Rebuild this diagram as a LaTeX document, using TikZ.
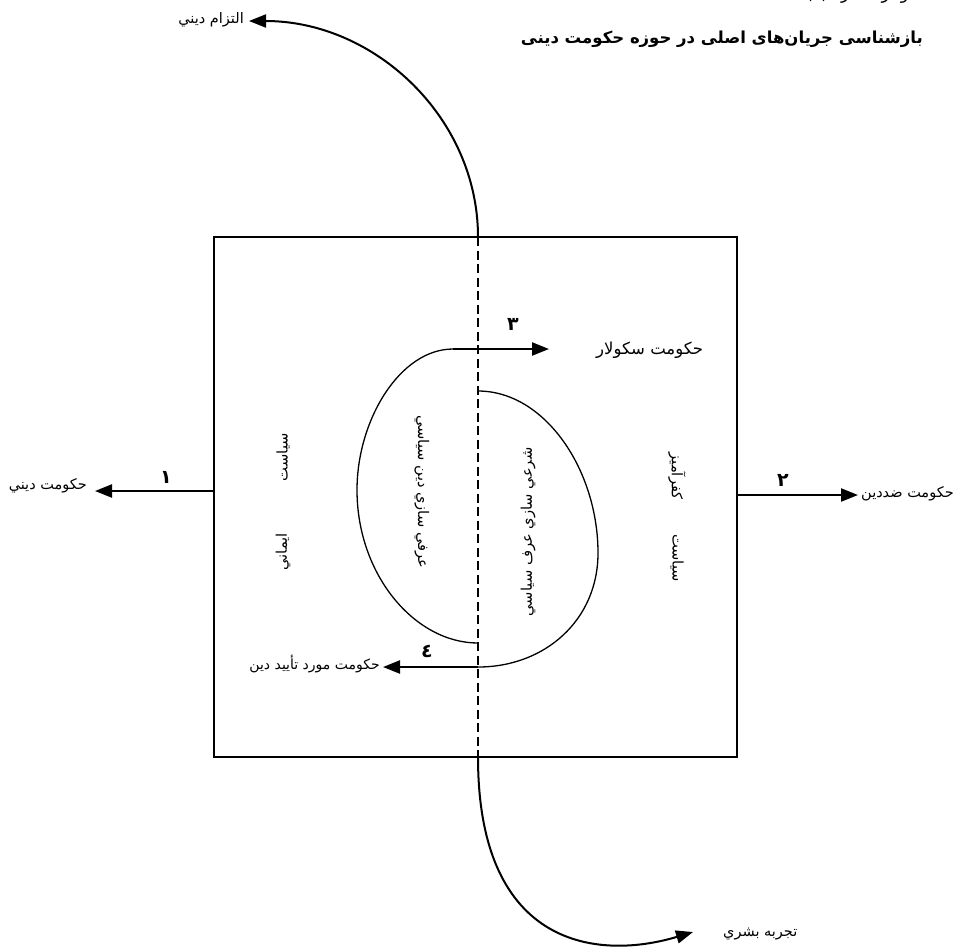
\documentclass[tikz,border=0pt]{standalone}
\usepackage{fontspec}
\usetikzlibrary{arrows.meta}
\newfontfamily\arabicfont[Script=Arabic]{DejaVu Sans}
\TeXXeTstate=1
\newcommand{\rtltext}[1]{{\arabicfont\beginR #1\endR}}
\tikzset{
  boxline/.style={line width=1.3pt},
  dashline/.style={line width=1.4pt, dash pattern=on 9pt off 4.5pt},
  bigcurve/.style={line width=2pt, -{Triangle[length=17pt,width=13pt]}},
  halfcurve/.style={line width=1.3pt},
  flowarrow/.style={line width=2.3pt, -{Triangle[length=17pt,width=13pt]}},
  lbl/.style={inner sep=1pt, font=\fontsize{14.5}{16}\selectfont},
  numlbl/.style={inner sep=1pt, font=\fontsize{19}{21}\bfseries},
  vlbl/.style={inner sep=1pt, font=\fontsize{14.7}{16}\selectfont},
}
\begin{document}
\begin{tikzpicture}[x=1pt,y=-1pt]
\useasboundingbox (0,0) rectangle (965,946);
% cut-off caption line at top
\node[anchor=base east, inner sep=0pt, font=\fontsize{16}{18}\selectfont] (cap) at (923,-1) {\rtltext{نمودار شماره (۱)}};
% title
\node[anchor=east, inner sep=0pt, font=\fontsize{16.5}{18}\bfseries] (title) at (923,39) {\rtltext{بازشناسی جریان‌های اصلی در حوزه حکومت دینی}};
% main box
\draw[boxline] (214,237) rectangle (737,757);
\coordinate (btop) at (478,237);
\coordinate (bbot) at (478,757);
\draw[dashline] (btop) -- (bbot);
% top curve
\coordinate (tl) at (249,21);
\draw[bigcurve] (btop) .. controls (478,118) and (375,21) .. (tl);
\node[lbl, anchor=east] (religious) at (245,20) {\rtltext{التزام ديني}};
% bottom curve
\coordinate (br) at (693,932);
\draw[bigcurve] (bbot) .. controls (478,950) and (600,960) .. (br);
\node[lbl, anchor=west] (human) at (722,934) {\rtltext{تجربه بشري}};
% left half of the oval
\coordinate (lt) at (453,349);
\coordinate (lb) at (478,643);
\draw[halfcurve] (lt) .. controls (400,349) and (357,420) .. (357,490)
  .. controls (357,575) and (415,643) .. (lb);
% right half of the oval
\coordinate (rt) at (478,391);
\coordinate (rb) at (478,667);
\draw[halfcurve] (rt) .. controls (545,391) and (598,470) .. (598,553)
  .. controls (598,620) and (545,667) .. (rb);
% arrow 3
\coordinate (a3) at (549,349);
\draw[flowarrow] (lt) -- (a3);
\node[numlbl] (n3) at (513,324) {\rtltext{۳}};
\node[lbl, anchor=west, font=\fontsize{16.5}{18}\selectfont] (secular) at (595,350) {\rtltext{حكومت سكولار}};
% arrow 4
\coordinate (a4) at (383,667);
\draw[flowarrow] (rb) -- (a4);
\node[numlbl] (n4) at (427,651) {\rtltext{٤}};
\node[lbl, anchor=east, font=\fontsize{14}{16}\selectfont] (approved) at (381,664) {\rtltext{حكومت مورد تأييد دين}};
% arrow 1
\coordinate (b1) at (214,491);
\coordinate (a1) at (95,491);
\draw[flowarrow] (b1) -- (a1);
\node[numlbl] (n1) at (166,477) {\rtltext{۱}};
\node[lbl, anchor=east] (relgov) at (88,486) {\rtltext{حكومت ديني}};
% arrow 2
\coordinate (b2) at (737,495);
\coordinate (a2) at (858,495);
\draw[flowarrow] (b2) -- (a2);
\node[numlbl] (n2) at (783,480) {\rtltext{۲}};
\node[lbl, anchor=west] (antigov) at (860,494) {\rtltext{حكومت ضددين}};
% vertical labels
\node[vlbl, rotate=90] (siyL) at (283,457) {\rtltext{سياست}};
\node[vlbl, rotate=90] (imani) at (283,552) {\rtltext{ايماني}};
\node[vlbl, rotate=-90] (kofr) at (677,476) {\rtltext{كفرآميز}};
\node[vlbl, rotate=-90] (siyR) at (677,558) {\rtltext{سياست}};
\node[vlbl, rotate=-90] (orfi) at (422,492) {\rtltext{عرفي سازي دين سياسي}};
\node[vlbl, rotate=90] (sharei) at (528,532) {\rtltext{شرعي سازي عرف سياسي}};
\end{tikzpicture}
\end{document}
